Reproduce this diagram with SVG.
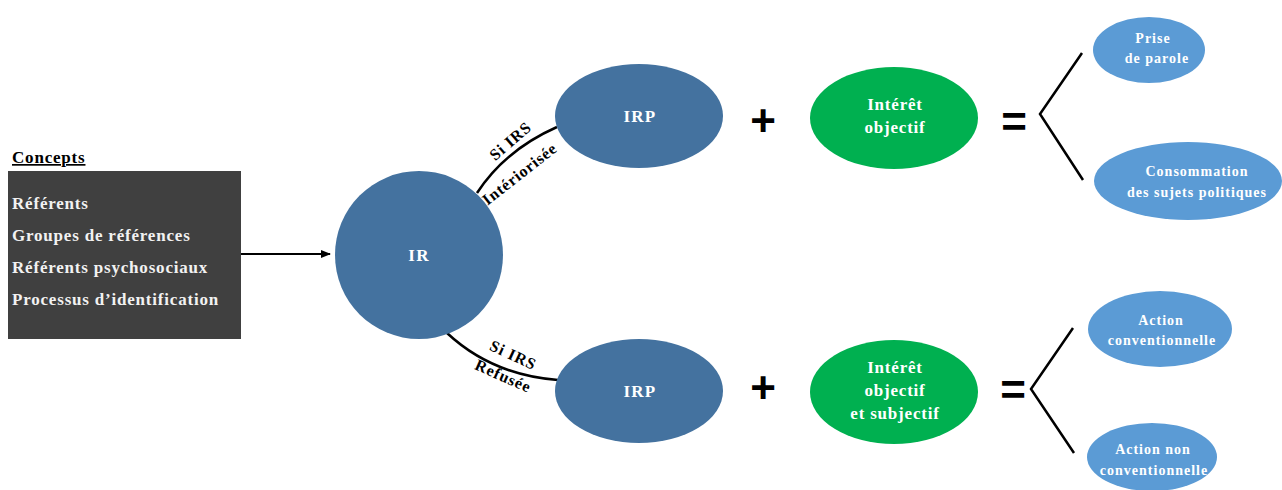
<svg xmlns="http://www.w3.org/2000/svg" width="1282" height="490" viewBox="0 0 1282 490">
<defs>
<style>
.t{font-family:"Liberation Serif","Times New Roman",serif;font-weight:bold;}
.w{fill:#ffffff;text-anchor:middle;}
.c{fill:#F2F2F2;font-size:17px;letter-spacing:0.8px;}
.lab{fill:#000000;font-size:16px;letter-spacing:0.9px;text-anchor:middle;}
.g{font-size:17px;letter-spacing:0.8px;}
.b{font-size:14px;letter-spacing:1px;}
.n{font-size:17px;letter-spacing:1.2px;}
.op{font-family:"Liberation Sans",Arial,sans-serif;font-weight:bold;fill:#000;text-anchor:middle;}
.dark{fill:#44729F;}
.green{fill:#00B050;}
.light{fill:#5B9BD5;}
.ln{fill:none;stroke:#000;stroke-width:2.5;}
</style>
<marker id="ah" viewBox="0 0 10 10" refX="9" refY="5" markerWidth="5" markerHeight="5" orient="auto">
<path d="M0,1 L10,5 L0,9 z" fill="#000"/>
</marker>
</defs>
<rect width="1282" height="490" fill="#ffffff"/>

<g id="concepts">
<text class="t" x="12" y="163" font-size="17" letter-spacing="0.8" text-decoration="underline" fill="#000">Concepts</text>
<rect x="8" y="171" width="233" height="168" fill="#404040"/>
<text class="t c" x="12" y="209">Référents</text>
<text class="t c" x="12" y="241">Groupes de références</text>
<text class="t c" x="12" y="273">Référents psychosociaux</text>
<text class="t c" x="12" y="305">Processus d’identification</text>
</g>

<g id="connectors">
<line x1="241" y1="254" x2="330" y2="254" stroke="#000" stroke-width="2" marker-end="url(#ah)"/>
<path class="ln" d="M477,193 Q505,150 557,127"/>
<path class="ln" d="M447,333 Q492,375 558,380"/>
<path class="ln" d="M1082,53 L1040,114 L1083,180"/>
<path class="ln" d="M1073,328 L1031,389 L1074,453"/>
</g>

<g id="labels">
<text class="t lab" transform="translate(514,145) rotate(-41)">Si IRS</text>
<text class="t lab" transform="translate(523,178) rotate(-38)">Intériorisée</text>
<text class="t lab" transform="translate(511,360) rotate(25)">Si IRS</text>
<text class="t lab" transform="translate(501,381) rotate(24)">Refusée</text>
</g>

<g id="ir">
<circle class="dark" cx="419" cy="255" r="84"/>
<text class="t w n" x="419" y="261">IR</text>
</g>

<g id="irp-top">
<ellipse class="dark" cx="639" cy="116" rx="84" ry="52"/>
<text class="t w n" x="640" y="122">IRP</text>
</g>

<g id="irp-bottom">
<ellipse class="dark" cx="639" cy="391" rx="84" ry="52"/>
<text class="t w n" x="640" y="397">IRP</text>
</g>

<g id="ops">
<text class="op" x="763" y="136" font-size="44">+</text>
<text class="op" x="763" y="403" font-size="44">+</text>
<text class="op" x="1014" y="137" font-size="44">=</text>
<text class="op" x="1013" y="405" font-size="44">=</text>
</g>

<g id="interet-top">
<ellipse class="green" cx="894" cy="118" rx="84" ry="51"/>
<text class="t w g" x="895" y="110">Intérêt</text>
<text class="t w g" x="895" y="133">objectif</text>
</g>

<g id="interet-bottom">
<ellipse class="green" cx="894" cy="392" rx="84" ry="52"/>
<text class="t w g" x="895" y="373">Intérêt</text>
<text class="t w g" x="895" y="396">objectif</text>
<text class="t w g" x="895" y="419">et subjectif</text>
</g>

<g id="prise-parole">
<ellipse class="light" cx="1149" cy="50" rx="56" ry="33"/>
<text class="t w b" x="1153" y="43">Prise</text>
<text class="t w b" x="1157" y="63">de parole</text>
</g>

<g id="consommation">
<ellipse class="light" cx="1188" cy="181" rx="94" ry="39"/>
<text class="t w b" x="1197" y="176">Consommation</text>
<text class="t w b" x="1197" y="197">des sujets politiques</text>
</g>

<g id="action-conv">
<ellipse class="light" cx="1160" cy="329" rx="72" ry="38"/>
<text class="t w b" x="1161" y="325">Action</text>
<text class="t w b" x="1162" y="345">conventionnelle</text>
</g>

<g id="action-non-conv">
<ellipse class="light" cx="1152" cy="457" rx="65" ry="34"/>
<text class="t w b" x="1153" y="454">Action non</text>
<text class="t w b" x="1154" y="475">conventionnelle</text>
</g>
</svg>
